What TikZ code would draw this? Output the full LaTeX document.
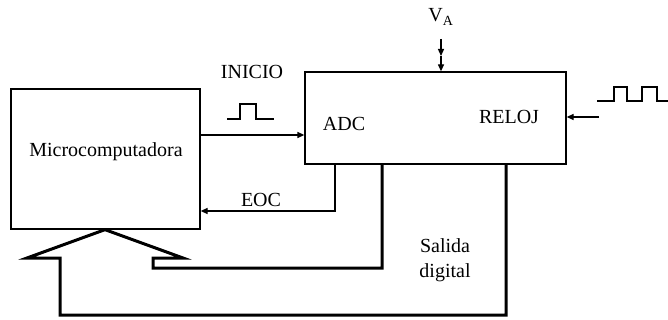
\documentclass[tikz,border=0pt]{standalone}
\usepackage{fontspec}
\setmainfont{Liberation Serif}
\usetikzlibrary{arrows.meta, positioning, calc}

\begin{document}
\begin{tikzpicture}[
  x=1pt, y=-1pt,
  every node/.style={font=\fontsize{20}{22}\selectfont, inner sep=0pt},
  blockbox/.style={rectangle, draw, line width=1.3pt, minimum width=#1},
  sig/.style={line width=1.3pt, -{Triangle[length=7pt, width=6pt]}},
  wire/.style={line width=1.3pt},
  bus/.style={line width=3pt, line join=miter},
]
\useasboundingbox (0,0) rectangle (668,320);

\node[blockbox=189pt, minimum height=140pt] (micro) at (105.5,159) {};
\node[blockbox=261pt, minimum height=92pt] (adc) at (435.5,118) {};

\node (microlbl) at (106,152) {Microcomputadora};
\node (adclbl) at (344,124) {ADC};
\node (reloj) at (509,117) {RELOJ};
\node (inicio) at (252,72) {INICIO};
\node (eoc) at (261,200) {EOC};
\node (va) at (441,17) {V\textsubscript{A}};
\node[align=center, font=\fontsize{20}{25}\selectfont] (salida) at (445,260) {Salida\\digital};

\coordinate (ini) at (200,135);
\coordinate (eocy) at (335,211);
\coordinate (clk) at (599,117);
\coordinate (vatop) at (441,39);
\coordinate (vamid) at (441,56);

\draw[sig] (micro.east |- ini) -- (adc.west |- ini);
\draw[sig] (adc.south -| eocy) -- (eocy) -- (micro.east |- eocy);
\draw[sig] (clk) -- (adc.east |- clk);
\draw[sig] (vatop) -- (vamid);
\draw[sig] (vamid) -- (adc.north -| vamid);

\draw[wire] (227,119) -- (240,119) -- (240,104) -- (256,104) -- (256,119) -- (274,119);
\draw[wire] (597,101) -- (614,101) -- (614,87) -- (627,87) -- (627,101) -- (642,101)
  -- (642,87) -- (657,87) -- (657,101) -- (668,101);

\draw[bus] (adc.south -| 382,0) -- (382,268) -- (153,268) -- (153,258) -- (183,258)
  -- (micro.south -| 105,0) -- (27,258) -- (60,258) -- (60,315) -- (506,315)
  -- (adc.south -| 506,0);
\end{tikzpicture}
\end{document}
